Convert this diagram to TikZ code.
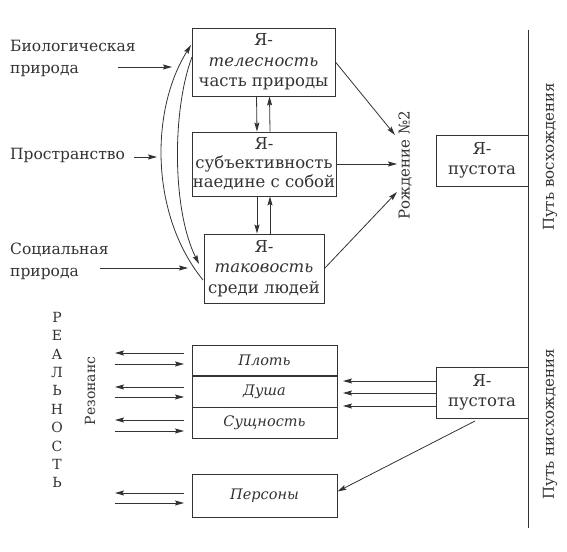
\documentclass[tikz,border=0pt]{standalone}
\usepackage{fontspec}
\setmainfont{DejaVu Serif}
\usetikzlibrary{arrows.meta}
\definecolor{ink}{HTML}{333333}
\begin{document}
\begin{tikzpicture}[x=1pt,y=-1pt,
  every node/.style={text=ink},
  box/.style={draw=ink, line width=0.9pt, inner sep=0pt, align=center, font=\fontsize{16.5}{20.5}\selectfont},
  sbox/.style={box, font=\fontsize{14.5}{18}\selectfont\itshape},
  lbl/.style={inner sep=0pt, align=left, font=\fontsize{15.5}{22}\selectfont},
  rot/.style={inner sep=0pt, rotate=90, font=\fontsize{15}{18}\selectfont},
  arr/.style={draw=ink, line width=0.8pt, -{Stealth[length=9pt,width=5pt,inset=1.5pt]}},
  ln/.style={draw=ink, line width=0.9pt}]
\useasboundingbox (0,0) rectangle (567,551);
\fill[white] (0,0) rectangle (567,551);
% top boxes
\node[box, minimum width=143pt, minimum height=68pt] (b1) at (263.5,62) {Я-\\\textit{телесность}\\часть природы};
\node[box, minimum width=144pt, minimum height=64pt, font=\fontsize{16.5}{19}\selectfont] (b2) at (264,164) {Я-\\субъективность\\наедине с собой};
\node[box, minimum width=120pt, minimum height=69pt] (b3) at (264,268.5) {Я-\\\textit{таковость}\\среди людей};
\node[box, minimum width=92pt, minimum height=51pt] (v1) at (482,160.5) {Я-\\пустота};
\node[box, minimum width=92pt, minimum height=51pt] (v2) at (482,392.5) {Я-\\пустота};
% stack
\node[sbox, minimum width=145pt, minimum height=31pt] (s1) at (264.5,360.5) {Плоть};
\node[sbox, minimum width=145pt, minimum height=31pt] (s2) at (264.5,391.5) {Душа};
\node[sbox, minimum width=145pt, minimum height=31pt] (s3) at (264.5,422.5) {Сущность};
\draw[ink, line width=2pt] (s1.south west) -- (s1.south east);
\node[sbox, minimum width=145pt, minimum height=43pt] (pe) at (264.5,495.5) {Персоны};
% vertical line
\coordinate (vt) at (528,30);
\coordinate (vb) at (528,528);
\draw[ln] (vt) -- (vb);
% labels
\node[lbl, anchor=west] (bio) at (10,58) {Биологическая\\природа};
\node[lbl, anchor=west] (pro) at (10,155) {Пространство};
\node[lbl, anchor=west] (soc) at (10,261) {Социальная\\природа};
\coordinate (bioE) at (118,67); \coordinate (bioT) at (172,67);
\coordinate (proE) at (134,157); \coordinate (proT) at (157,157);
\coordinate (socE) at (100,268); \coordinate (socT) at (188,268);
\draw[arr] (bioE) -- (bioT);
\draw[arr] (proE) -- (proT);
\draw[arr] (socE) -- (socT);
% vertical arrows between boxes
\draw[arr] ([xshift=-7pt]b1.south) -- ([xshift=-7pt]b2.north);
\draw[arr] ([xshift=6pt]b2.north) -- ([xshift=6pt]b1.south);
\draw[arr] ([xshift=-7pt]b2.south) -- ([xshift=-7pt]b3.north);
\draw[arr] ([xshift=6pt]b3.north) -- ([xshift=6pt]b2.south);
% curves
\coordinate (c1s) at (203,280); \coordinate (c1e) at (191,45);
\coordinate (c2s) at (192,57); \coordinate (c2e) at (199,264);
\draw[arr] (c1s) .. controls (150,215) and (150,110) .. (c1e);
\draw[arr] (c2s) .. controls (172,110) and (172,210) .. (c2e);
% birth
\node[rot] (rod) at (405,165) {Рождение №2};
\coordinate (r1) at (395,135); \coordinate (r2) at (397,164); \coordinate (r3) at (397,192);
\draw[arr] (b1.east) -- (r1);
\draw[arr] (b2.east) -- (r2);
\draw[arr] (b3.east) -- (r3);
\node[rot] (up) at (550,157) {Путь восхождения};
\node[rot] (down) at (550,424) {Путь нисхождения};
% reality
\node[inner sep=0pt, align=center, font=\fontsize{14}{18.4}\selectfont] (real) at (57,400) {Р\\Е\\А\\Л\\Ь\\Н\\О\\С\\Т\\Ь};
\node[rot, font=\fontsize{14}{16}\selectfont] (rez) at (90,391) {Резонанс};
\foreach \a/\b in {353/364, 387/397, 420/431, 493/503}{
  \draw[arr] (184,\a) -- (115,\a);
  \draw[arr] (115,\b) -- (184,\b);
}
% from bottom void
\draw[arr] (v2.west |- 0,381) -- (343,381);
\draw[arr] (v2.west |- 0,393) -- (343,393);
\draw[arr] (v2.west |- 0,406) -- (343,406);
\coordinate (dg) at (475,421);
\draw[arr] (dg) -- ([yshift=4pt]pe.east);
\end{tikzpicture}
\end{document}
